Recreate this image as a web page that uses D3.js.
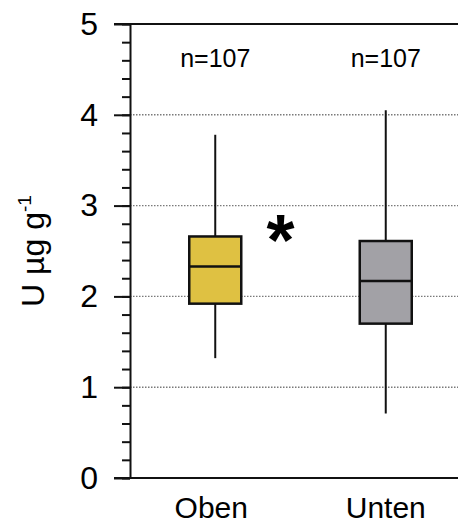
<!DOCTYPE html>
<html>
  <head>
    <meta charset="utf-8">
    <script type="text/javascript" src="https://cdn.jsdelivr.net/npm/d3@7"></script>
    <style type="text/css">
      body { margin: 0; background: #ffffff; }
      text { font-family: Arial, "Liberation Sans", sans-serif; fill: #000; }
    </style>
  </head>
  <body>
    <script type="text/javascript">
      // data
      var groups = ["Oben", "Unten"];
      var counts = ["n=107", "n=107"];
      var whiskerLow = [1.32, 0.71];
      var q1 = [1.92, 1.70];
      var median = [2.33, 2.17];
      var q3 = [2.66, 2.61];
      var whiskerHigh = [3.78, 4.05];
      var boxColors = ["#dfc142", "#a2a1a6"];
      var majorTicks = [0, 1, 2, 3, 4, 5];
      var gridValues = [1, 2, 3, 4];

      var svgWidth = 458;
      var svgHeight = 524;
      var plotLeft = 130, plotRight = 471, plotTop = 24, plotBottom = 478;
      var boxWidth = 52;

      var svg = d3.select("body")
        .append("svg")
        .attr("width", svgWidth)
        .attr("height", svgHeight);

      var xScale = d3.scaleBand()
        .domain(groups)
        .range([plotLeft, plotRight]);

      var yScale = d3.scaleLinear()
        .domain([0, 5])
        .range([plotBottom, plotTop]);

      function cx(i) { return xScale(groups[i]) + xScale.bandwidth() / 2; }

      // dotted grid lines
      svg.selectAll(".grid")
        .data(gridValues)
        .enter()
        .append("line")
        .attr("x1", plotLeft)
        .attr("x2", svgWidth)
        .attr("y1", function(d) { return yScale(d); })
        .attr("y2", function(d) { return yScale(d); })
        .attr("stroke", "#7a7a7a")
        .attr("stroke-width", 1.4)
        .attr("stroke-dasharray", "1.5,1.5");

      // frame: top and bottom lines
      svg.append("line")
        .attr("x1", plotLeft - 16).attr("x2", svgWidth)
        .attr("y1", yScale(5)).attr("y2", yScale(5))
        .attr("stroke", "#111").attr("stroke-width", 2);
      svg.append("line")
        .attr("x1", plotLeft - 16).attr("x2", svgWidth)
        .attr("y1", yScale(0)).attr("y2", yScale(0))
        .attr("stroke", "#111").attr("stroke-width", 2);

      // minor ticks
      var minorAxis = svg.append("g")
        .attr("transform", "translate(" + plotLeft + ",0)")
        .call(d3.axisLeft(yScale).ticks(25).tickSize(8).tickFormat(""));
      minorAxis.select(".domain").remove();
      minorAxis.selectAll("line").attr("stroke", "#111").attr("stroke-width", 2);

      // major ticks + labels
      var yAxis = svg.append("g")
        .attr("transform", "translate(" + plotLeft + ",0)")
        .call(d3.axisLeft(yScale).tickValues(majorTicks).tickFormat(d3.format("d"))
          .tickSize(16).tickPadding(16).tickSizeOuter(0));
      yAxis.select(".domain").attr("stroke", "#111").attr("stroke-width", 2);
      yAxis.selectAll("line").attr("stroke", "#111").attr("stroke-width", 2);
      yAxis.selectAll("text")
        .style("font-size", "32px")
        .style("font-family", "Arial, 'Liberation Sans', sans-serif");

      // whiskers
      svg.selectAll(".whisker")
        .data(groups)
        .enter()
        .append("line")
        .attr("x1", function(d, i) { return cx(i); })
        .attr("x2", function(d, i) { return cx(i); })
        .attr("y1", function(d, i) { return yScale(whiskerLow[i]); })
        .attr("y2", function(d, i) { return yScale(whiskerHigh[i]); })
        .attr("stroke", "#111")
        .attr("stroke-width", 2);

      // boxes
      svg.selectAll(".box")
        .data(groups)
        .enter()
        .append("rect")
        .attr("x", function(d, i) { return cx(i) - boxWidth / 2; })
        .attr("y", function(d, i) { return yScale(q3[i]); })
        .attr("width", boxWidth)
        .attr("height", function(d, i) { return yScale(q1[i]) - yScale(q3[i]); })
        .attr("fill", function(d, i) { return boxColors[i]; })
        .attr("stroke", "#111")
        .attr("stroke-width", 2.5);

      // medians
      svg.selectAll(".median")
        .data(groups)
        .enter()
        .append("line")
        .attr("x1", function(d, i) { return cx(i) - boxWidth / 2; })
        .attr("x2", function(d, i) { return cx(i) + boxWidth / 2; })
        .attr("y1", function(d, i) { return yScale(median[i]); })
        .attr("y2", function(d, i) { return yScale(median[i]); })
        .attr("stroke", "#111")
        .attr("stroke-width", 2.5);

      // n labels
      svg.selectAll(".count")
        .data(counts)
        .enter()
        .append("text")
        .attr("x", function(d, i) { return cx(i); })
        .attr("y", 67)
        .attr("text-anchor", "middle")
        .style("font-size", "25px")
        .text(function(d) { return d; });

      // category labels
      svg.selectAll(".cat")
        .data(groups)
        .enter()
        .append("text")
        .attr("x", function(d, i) { return cx(i) - (i === 0 ? 4 : 0); })
        .attr("y", 518)
        .attr("text-anchor", "middle")
        .style("font-size", "30px")
        .text(function(d) { return d; });

      // significance asterisk
      svg.append("text")
        .attr("x", (cx(0) + cx(1)) / 2 - 20)
        .attr("y", yScale(2.73))
        .attr("dy", "0.48em")
        .attr("text-anchor", "middle")
        .style("font-size", "72px")
        .style("font-weight", "bold")
        .text("*");

      // y axis label
      var yLabel = svg.append("text")
        .attr("text-anchor", "middle")
        .attr("transform", "translate(44," + ((plotTop + plotBottom) / 2) + ")rotate(-90)")
        .style("font-size", "32px");
      yLabel.append("tspan").text("U \u00b5g g");
      yLabel.append("tspan")
        .attr("dy", "-0.7em")
        .style("font-size", "19px")
        .text("-1");
    </script>
  </body>
</html>
